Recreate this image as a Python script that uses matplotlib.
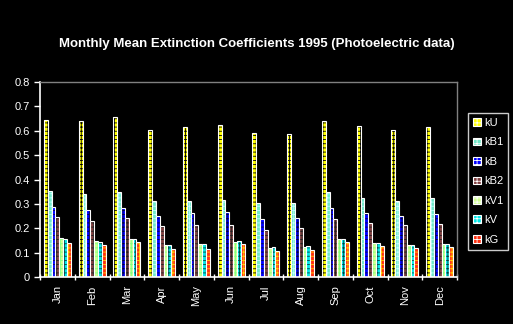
import numpy as np
import matplotlib
matplotlib.use("Agg")
import matplotlib.pyplot as plt
from matplotlib.patches import Patch

plt.rcParams['font.family'] = ['Liberation Sans', 'DejaVu Sans']
plt.rcParams['hatch.linewidth'] = 0.6

months = ["Jan", "Feb", "Mar", "Apr", "May", "Jun",
          "Jul", "Aug", "Sep", "Oct", "Nov", "Dec"]
kU = [0.644, 0.640, 0.656, 0.602, 0.614, 0.623, 0.591, 0.587, 0.640, 0.619, 0.603, 0.615]
kB1 = [0.353, 0.340, 0.348, 0.312, 0.312, 0.316, 0.303, 0.303, 0.349, 0.325, 0.312, 0.325]
kB = [0.288, 0.274, 0.284, 0.251, 0.263, 0.267, 0.237, 0.243, 0.284, 0.263, 0.251, 0.259]
kB2 = [0.247, 0.231, 0.243, 0.210, 0.214, 0.214, 0.194, 0.202, 0.239, 0.222, 0.214, 0.218]
kV1 = [0.160, 0.149, 0.157, 0.132, 0.136, 0.145, 0.120, 0.124, 0.157, 0.140, 0.132, 0.136]
kV = [0.157, 0.145, 0.157, 0.132, 0.136, 0.149, 0.124, 0.128, 0.157, 0.140, 0.132, 0.136]
kG = [0.140, 0.132, 0.145, 0.116, 0.116, 0.136, 0.108, 0.112, 0.145, 0.128, 0.120, 0.124]

series = [("kU", kU), ("kB1", kB1), ("kB", kB), ("kB2", kB2),
          ("kV1", kV1), ("kV", kV), ("kG", kG)]
# face colour, hatch colour
styles = {"kU": ("#FFFF00", "#000000"),
          "kB1": ("#70E8C8", "#C0FFFF"),
          "kB": ("#0000FF", "#000040"),
          "kB2": ("#804040", "#202020"),
          "kV1": ("#D0FF90", "#80FF80"),
          "kV": ("#00E8E8", "#004040"),
          "kG": ("#FF3010", "#FFD000")}

fig = plt.figure(figsize=(5.13, 3.24), dpi=100, facecolor="black")
ax = fig.add_axes([40/513, 1-277/324, 417/513, (277-82)/324])
ax.set_facecolor("black")

x = np.arange(len(months))
w = 0.11
for i, (name, vals) in enumerate(series):
    fc, hc = styles[name]
    pos = x + (i - 3) * w
    ax.bar(pos, vals, w, color=fc, edgecolor=hc, hatch="++++", linewidth=0)
    ax.bar(pos, vals, w, fill=False, edgecolor="white", linewidth=0.8)

ax.set_xlim(-0.5, len(months) - 0.5)
ax.set_ylim(0, 0.8)
ax.set_yticks(np.arange(0, 0.81, 0.1))
ax.set_yticklabels(["0"] + [f"{v:.1f}" for v in np.arange(0.1, 0.81, 0.1)])
ax.set_xticks(x)
ax.set_xticklabels(months, rotation=90)
ax.set_xticks(np.arange(-0.5, len(months)), minor=True)
ax.tick_params(axis="x", which="major", length=0, pad=6, colors="white", labelsize=8)
ax.tick_params(axis="x", which="minor", length=5, width=1, color="white", direction="inout")
ax.tick_params(axis="y", length=4, width=1, colors="white", labelsize=8)

for s in ("left", "bottom"):
    ax.spines[s].set_color("white")
    ax.spines[s].set_linewidth(1.2)
for s in ("top", "right"):
    ax.spines[s].set_color("#808080")
    ax.spines[s].set_linewidth(1)

fig.text(0.5, 1-44/324, "Monthly Mean Extinction Coefficients 1995 (Photoelectric data)",
         color="white", fontsize=9.5, fontweight="bold", ha="center", va="center")

handles = [Patch(facecolor=styles[n][0], edgecolor="white", hatch="++++", linewidth=0.8)
           for n, _ in series]
leg = fig.legend(handles, [n for n, _ in series], loc="upper left",
                 bbox_to_anchor=(468/513, 1-113/324), frameon=True,
                 fontsize=8, handlelength=0.7, handleheight=0.7, handletextpad=0.3,
                 labelspacing=0.85, borderpad=0.45, borderaxespad=0, fancybox=False)
leg.get_frame().set_facecolor("black")
leg.get_frame().set_edgecolor("white")
leg.get_frame().set_linewidth(1)
for t in leg.get_texts():
    t.set_color("white")

fig.savefig("out.png", dpi=100, facecolor="black")
